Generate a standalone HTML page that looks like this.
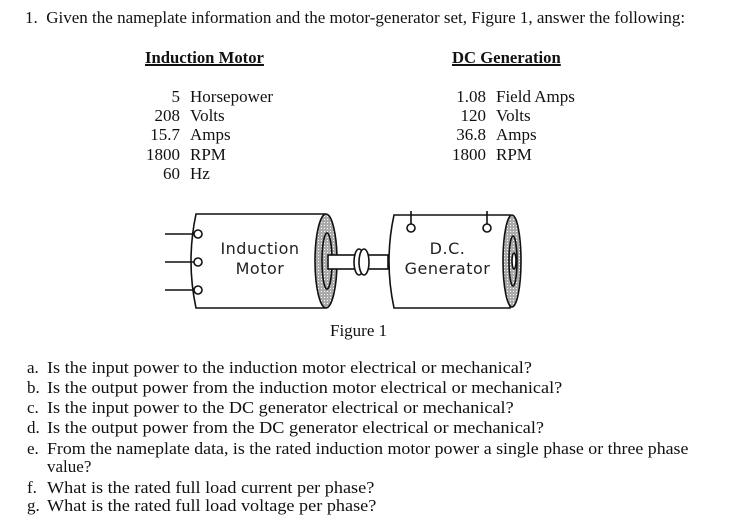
<!DOCTYPE html>
<html><head><meta charset="utf-8"><style>
body{margin:0;width:735px;height:520px;background:#fff;position:relative;overflow:hidden;font-family:"Liberation Serif",serif;color:#111}
.t{position:absolute;white-space:nowrap;font-size:17px;line-height:18px;transform-origin:0 0;transform:scaleX(1.0)}
.q{transform:scaleX(1.07)}
.r{position:absolute;white-space:nowrap;font-size:17px;line-height:18px;text-align:right;width:60px}
.h{font-weight:bold;text-decoration:underline;text-decoration-thickness:2px;transform:scaleX(0.98)}
.s{font-family:"DejaVu Sans",sans-serif;font-size:16px;letter-spacing:0.5px;position:absolute;text-align:center;line-height:20px;color:#222}
</style></head><body>
<div class="t" style="left:25px;top:9px">1.&nbsp; Given the nameplate information and the motor-generator set, Figure 1, answer the following:</div>
<div class="t h" style="left:145px;top:49px">Induction Motor</div>
<div class="t h" style="left:452px;top:49px">DC Generation</div>

<div class="r" style="left:120px;top:88px">5</div><div class="t" style="left:190px;top:88px">Horsepower</div>
<div class="r" style="left:120px;top:107px">208</div><div class="t" style="left:190px;top:107px">Volts</div>
<div class="r" style="left:120px;top:126px">15.7</div><div class="t" style="left:190px;top:126px">Amps</div>
<div class="r" style="left:120px;top:146px">1800</div><div class="t" style="left:190px;top:146px">RPM</div>
<div class="r" style="left:120px;top:165px">60</div><div class="t" style="left:190px;top:165px">Hz</div>

<div class="r" style="left:426px;top:88px">1.08</div><div class="t" style="left:496px;top:88px">Field Amps</div>
<div class="r" style="left:426px;top:107px">120</div><div class="t" style="left:496px;top:107px">Volts</div>
<div class="r" style="left:426px;top:126px">36.8</div><div class="t" style="left:496px;top:126px">Amps</div>
<div class="r" style="left:426px;top:146px">1800</div><div class="t" style="left:496px;top:146px">RPM</div>

<svg style="position:absolute;left:0;top:0" width="735" height="520">
<defs><pattern id="d" width="3" height="3" patternUnits="userSpaceOnUse"><rect width="3" height="3" fill="#aaa"/><rect width="1" height="1" fill="#fff"/></pattern></defs>
<g stroke="#111" stroke-width="1.6" fill="#fff">
<path d="M196,214 L325,214 L325,308 L196,308 Q186,261 196,214 Z"/>
<line x1="165" y1="234" x2="195" y2="234"/><line x1="165" y1="262" x2="195" y2="262"/><line x1="165" y1="290" x2="195" y2="290"/>
<circle cx="198" cy="234" r="4"/><circle cx="198" cy="262" r="4"/><circle cx="198" cy="290" r="4"/>
<ellipse cx="326" cy="261" rx="11" ry="47" fill="url(#d)"/>
<ellipse cx="327" cy="261" rx="5" ry="28" fill="url(#d)"/>
<rect x="328" y="255" width="28" height="14"/>
<rect x="366" y="255" width="22" height="14"/>
<ellipse cx="359" cy="262" rx="5" ry="13"/>
<ellipse cx="364" cy="262" rx="5" ry="13"/>
<path d="M394,215 L510,215 L510,308 L394,308 Q384,261 394,215 Z"/>
<line x1="411" y1="211" x2="411" y2="224"/><line x1="487" y1="211" x2="487" y2="224"/>
<circle cx="411" cy="228" r="4"/><circle cx="487" cy="228" r="4"/>
<ellipse cx="512" cy="261" rx="9" ry="46" fill="url(#d)"/>
<ellipse cx="513" cy="261" rx="4" ry="25" fill="url(#d)"/>
<ellipse cx="514" cy="261" rx="2" ry="8" fill="#fff"/>
</g>
</svg>
<div class="s" style="left:205px;top:239px;width:110px">Induction<br>Motor</div>
<div class="s" style="left:390px;top:239px;width:115px">D.C.<br>Generator</div>
<div class="t" style="left:330px;top:322px">Figure 1</div>

<div class="t" style="left:27px;top:359px">a.</div><div class="t q" style="left:47px;top:359px">Is the input power to the induction motor electrical or mechanical?</div>
<div class="t" style="left:27px;top:379px">b.</div><div class="t q" style="left:47px;top:379px">Is the output power from the induction motor electrical or mechanical?</div>
<div class="t" style="left:27px;top:399px">c.</div><div class="t q" style="left:47px;top:399px">Is the input power to the DC generator electrical or mechanical?</div>
<div class="t" style="left:27px;top:419px">d.</div><div class="t q" style="left:47px;top:419px">Is the output power from the DC generator electrical or mechanical?</div>
<div class="t" style="left:27px;top:440px">e.</div><div class="t" style="left:47px;top:440px;transform:scaleX(1.05)">From the nameplate data, is the rated induction motor power a single phase or three phase</div>
<div class="t" style="left:47px;top:458px">value?</div>
<div class="t" style="left:27px;top:479px">f.</div><div class="t q" style="left:47px;top:479px">What is the rated full load current per phase?</div>
<div class="t" style="left:27px;top:497px">g.</div><div class="t q" style="left:47px;top:497px">What is the rated full load voltage per phase?</div>
</body></html>
